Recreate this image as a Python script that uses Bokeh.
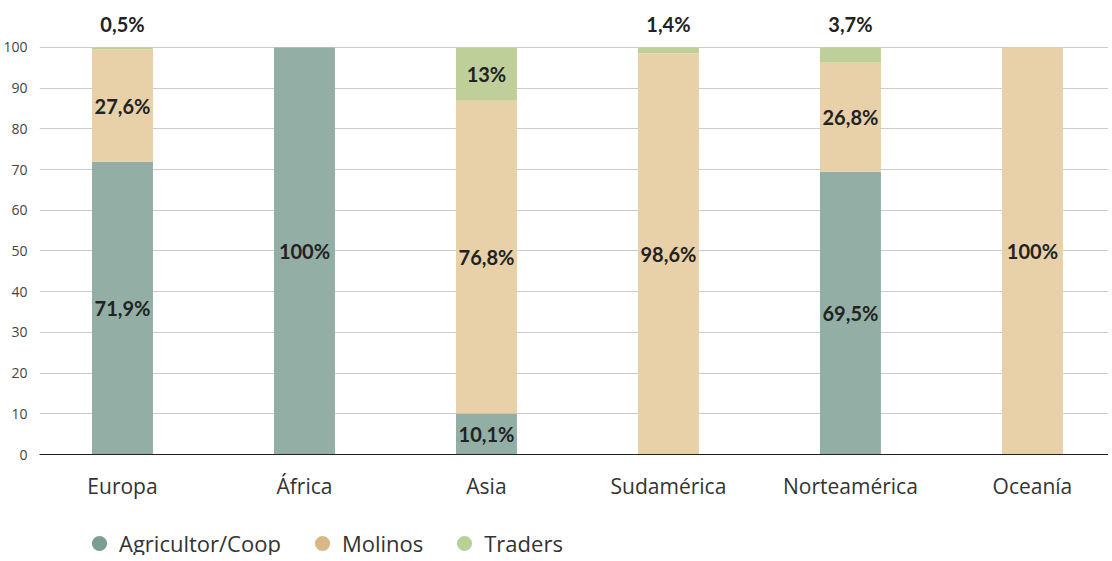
from bokeh.plotting import figure
from bokeh.layouts import column
from bokeh.models import ColumnDataSource, Range1d, FixedTicker, Legend, LegendItem, CustomJSTickFormatter
from bokeh.core.properties import value
from bokeh.embed import file_html
from bokeh.resources import INLINE

regions = ["Europa", "África", "Asia", "Sudamérica", "Norteamérica", "Oceanía"]
series = ["Agricultor/Coop", "Molinos", "Traders"]
agricultor = [71.9, 100, 10.1, 0, 69.5, 0]
molinos = [27.6, 0, 76.8, 98.6, 26.8, 100]
traders = [0.5, 0, 13, 1.4, 3.7, 0]
label_agricultor = ["71,9%", "100%", "10,1%", "", "69,5%", ""]
label_molinos = ["27,6%", "", "76,8%", "98,6%", "26,8%", "100%"]
label_traders = ["0,5%", "", "13%", "1,4%", "3,7%", ""]
y_ticks = [0, 10, 20, 30, 40, 50, 60, 70, 80, 90, 100]

bar_colors = ["#93afa5", "#e8d0a8", "#bfcf9a"]
dot_colors = ["#7a9e90", "#d9b888", "#bccf96"]
FONT = "Open Sans"
BFONT = "Lato"

xs = list(range(len(regions)))

p = figure(output_backend="svg", toolbar_location=None,
           frame_width=1069, frame_height=444, width=1104,
           min_border_left=35, min_border_right=0, min_border_top=10, min_border_bottom=46,
           x_range=Range1d(-0.456, 5.418), y_range=Range1d(0, 109.09))
p.outline_line_color = None
p.background_fill_color = "white"

src = ColumnDataSource(dict(x=xs, a=agricultor, m=molinos, t=traders))
p.vbar_stack(["a", "m", "t"], x="x", width=0.335, source=src,
             color=bar_colors, line_color=None)

# labels
lx, ly, lt = [], [], []
for i in xs:
    base = 0
    for vals, labs in ((agricultor, label_agricultor), (molinos, label_molinos), (traders, label_traders)):
        v = vals[i]
        if v > 0 and labs[i]:
            lx.append(i)
            ly.append(base + v / 2 if v >= 5 else 105.8)
            lt.append(labs[i])
        base += v
p.text(x=lx, y=ly, text=lt, text_align="center", text_baseline="middle",
       text_font=value(BFONT), text_font_style="bold", text_font_size="20px",
       text_color="#222222")

p.xaxis.ticker = FixedTicker(ticks=xs)
p.xaxis.formatter = CustomJSTickFormatter(args=dict(labels=regions),
                                         code="return labels[Math.round(tick)] || '';")
p.xaxis.major_tick_line_color = None
p.xaxis.minor_tick_line_color = None
p.xaxis.axis_line_color = "#222222"
p.xaxis.major_label_text_font = FONT
p.xaxis.major_label_text_font_size = "21px"
p.xaxis.major_label_text_color = "#333333"
p.xaxis.major_label_standoff = 11

p.yaxis.ticker = FixedTicker(ticks=y_ticks)
p.yaxis.axis_line_color = None
p.yaxis.major_tick_line_color = None
p.yaxis.minor_tick_line_color = None
p.yaxis.major_label_text_font = FONT
p.yaxis.major_label_text_font_size = "14px"
p.yaxis.major_label_text_color = "#444444"
p.yaxis.major_label_standoff = 6

p.xgrid.grid_line_color = None
p.ygrid.ticker = FixedTicker(ticks=y_ticks)
p.ygrid.grid_line_color = "#cccccc"

# legend in its own strip below the chart (hidden proxy renderers give the dots)
lg = figure(output_backend="svg", toolbar_location=None, width=1104, height=53,
            min_border=0, x_range=Range1d(0, 1), y_range=Range1d(0, 1))
lg.outline_line_color = None
lg.axis.visible = False
lg.grid.visible = False
items = []
for name, c in zip(series, dot_colors):
    proxy = ColumnDataSource(dict(x=[0], y=[0]))
    r = lg.scatter(x="x", y="y", source=proxy, marker="circle", fill_color=c,
                   line_color=None, visible=False)
    items.append(LegendItem(label=name, renderers=[r]))
legend = Legend(items=items, orientation="horizontal", location=(41, -7),
                label_text_font=FONT, label_text_font_size="22px", label_text_color="#333333",
                border_line_color=None, background_fill_alpha=0,
                inactive_fill_alpha=0,
                glyph_width=38, glyph_height=38, label_standoff=1, spacing=22,
                margin=0, padding=0)
lg.add_layout(legend, "center")

open("out.html", "w").write(file_html(column(p, lg), INLINE))
